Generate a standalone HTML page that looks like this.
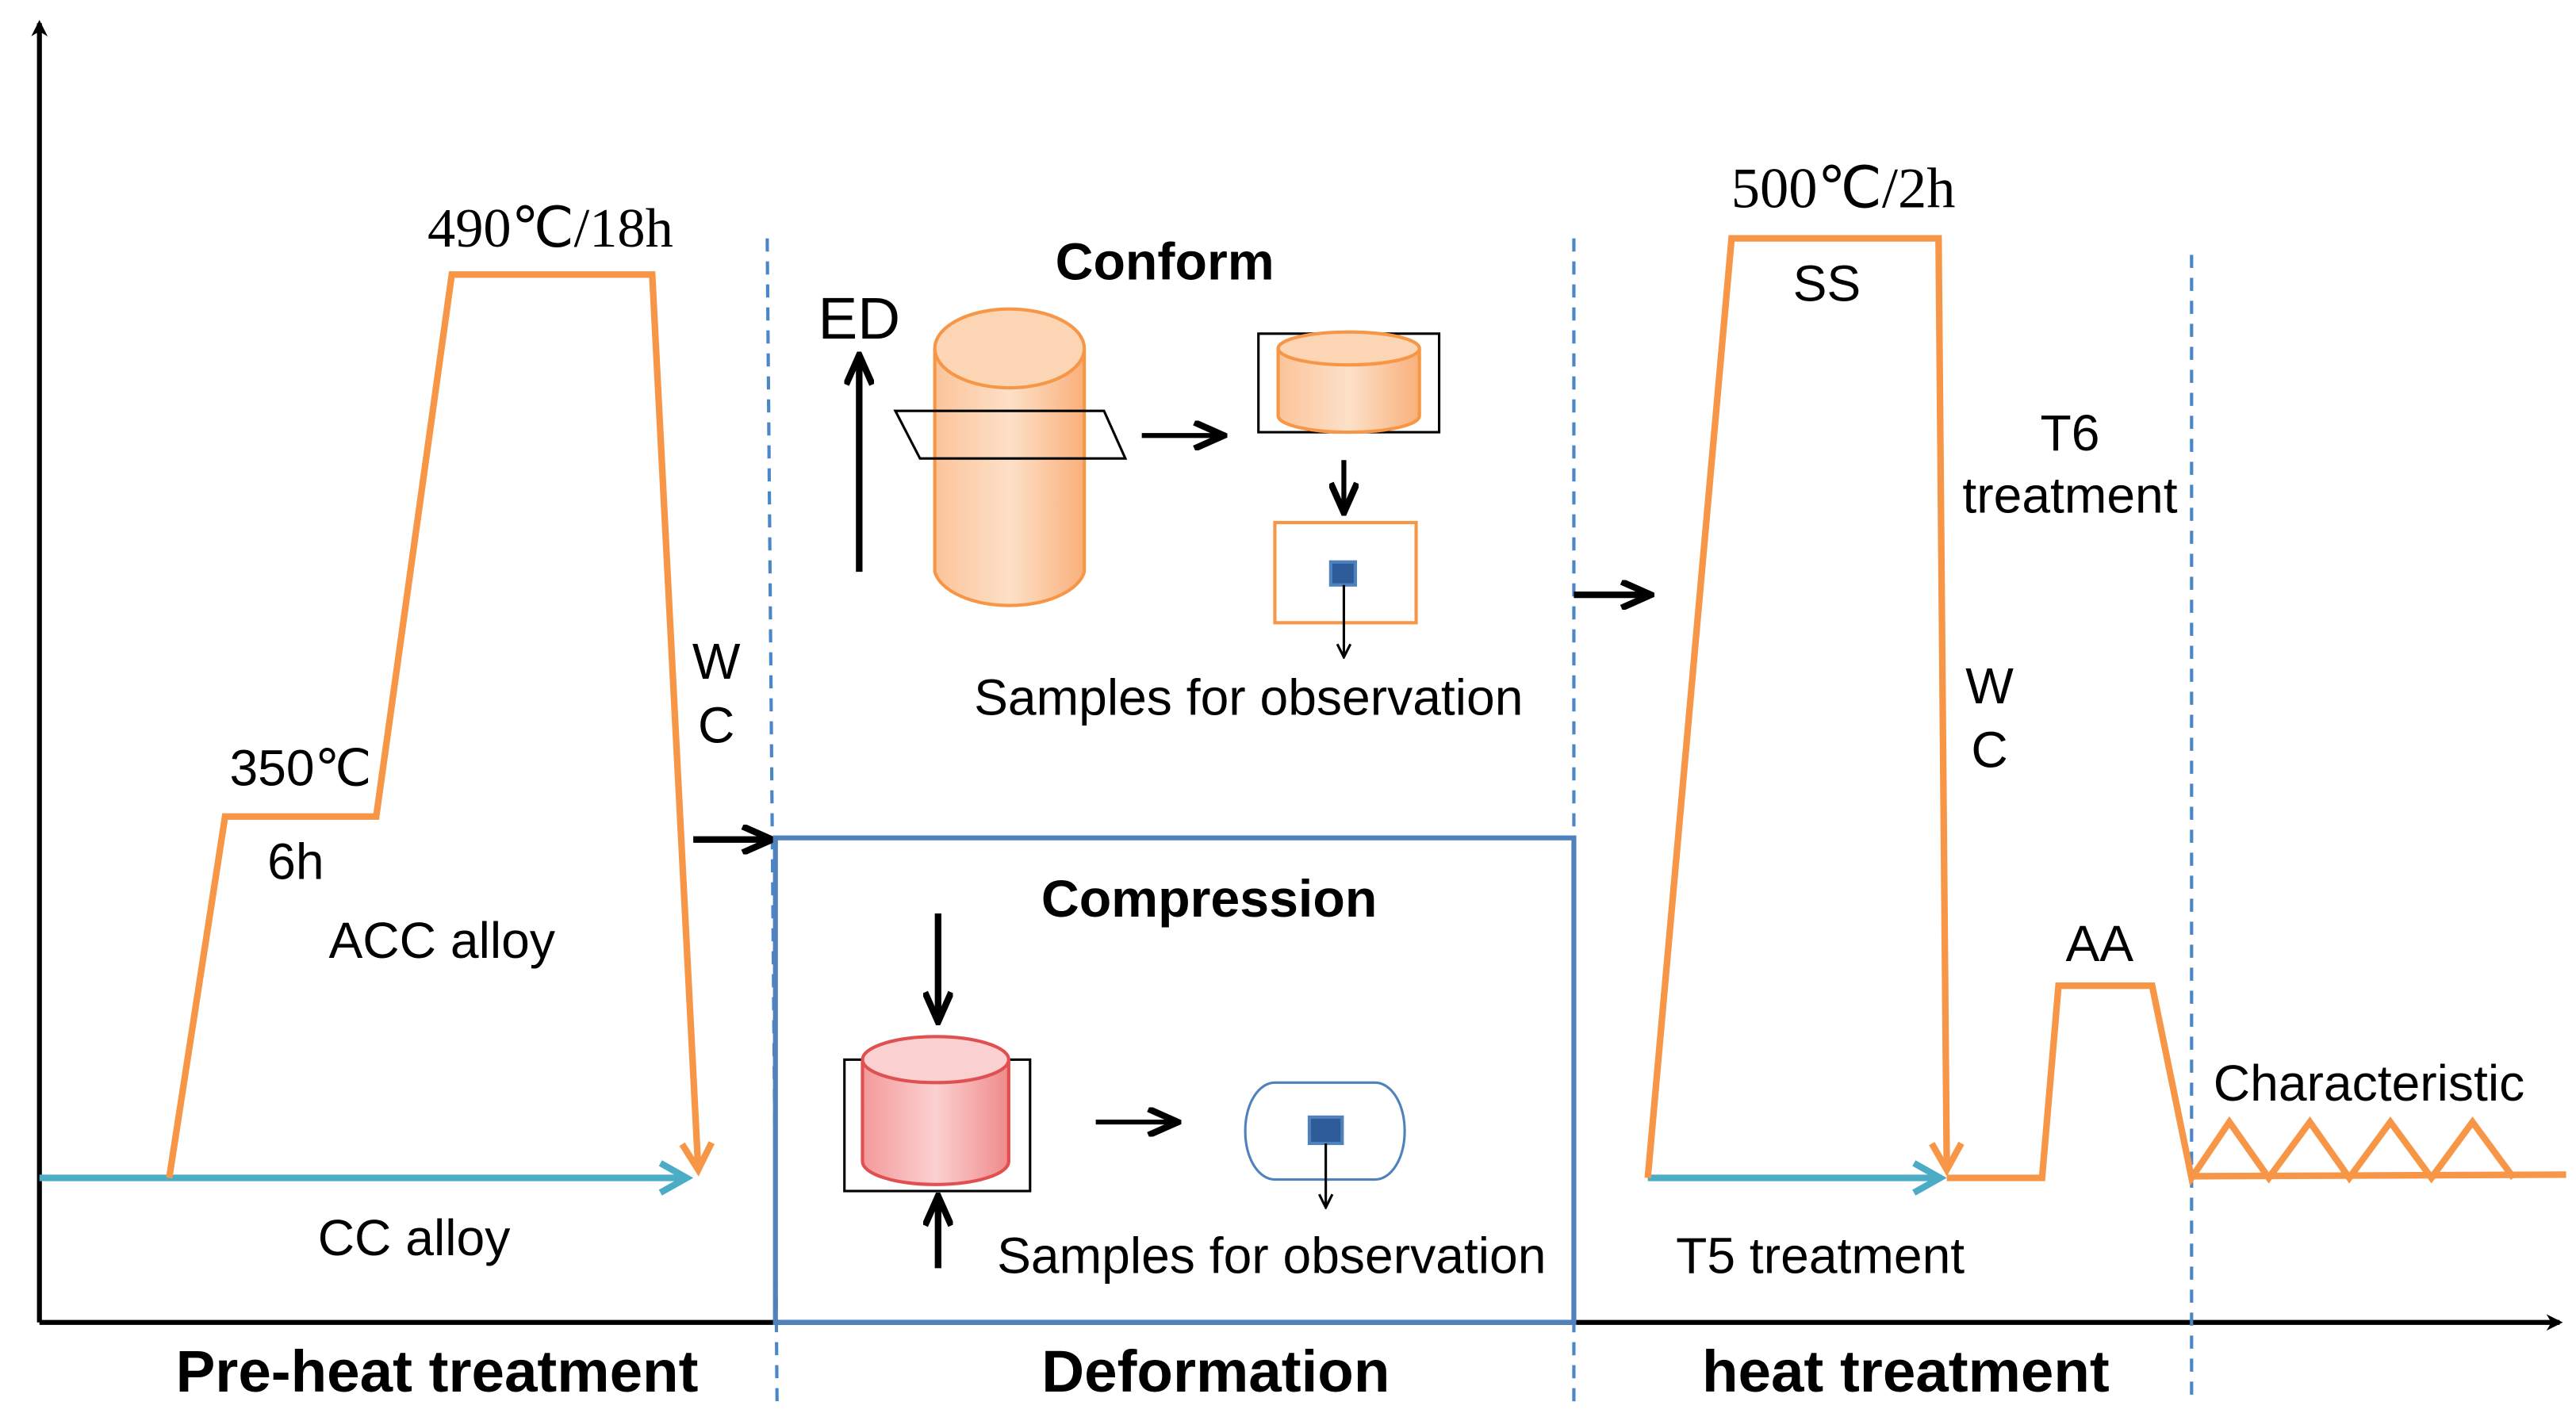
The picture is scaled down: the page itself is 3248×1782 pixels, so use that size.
<!DOCTYPE html>
<html><head><meta charset="utf-8"><style>html,body{margin:0;padding:0;background:#fff}svg{display:block}</style></head>
<body>
<svg width="3248" height="1782" viewBox="0 0 1568 860" xmlns="http://www.w3.org/2000/svg" font-family="Liberation Sans, Arial, sans-serif">
<defs>
<marker id="ak" markerWidth="10" markerHeight="10" refX="8" refY="5" orient="auto" markerUnits="userSpaceOnUse"><path d="M0,0 L10,5 L0,10 L3,5 Z" fill="#000"/></marker>
<marker id="ab" markerWidth="22" markerHeight="18" refX="20" refY="9" orient="auto" markerUnits="userSpaceOnUse"><path d="M2,1 L20,9 L2,17" fill="none" stroke="#000" stroke-width="4"/></marker>
<marker id="ao" markerWidth="22" markerHeight="22" refX="18" refY="11" orient="auto" markerUnits="userSpaceOnUse"><path d="M2,2 L18,11 L2,20" fill="none" stroke="#f79646" stroke-width="4"/></marker>
<marker id="ac" markerWidth="22" markerHeight="22" refX="18" refY="11" orient="auto" markerUnits="userSpaceOnUse"><path d="M2,2 L18,11 L2,20" fill="none" stroke="#4bacc6" stroke-width="4"/></marker>
<marker id="as" markerWidth="10" markerHeight="10" refX="9" refY="5" orient="auto" markerUnits="userSpaceOnUse"><path d="M1,1 L9,5 L1,9" fill="none" stroke="#000" stroke-width="1.5"/></marker>
<linearGradient id="go" x1="0" x2="1"><stop offset="0" stop-color="#fbc49a"/><stop offset="0.5" stop-color="#fde0c8"/><stop offset="1" stop-color="#f9b07a"/></linearGradient>
<linearGradient id="gr" x1="0" x2="1"><stop offset="0" stop-color="#f49a9a"/><stop offset="0.5" stop-color="#fbd0d0"/><stop offset="1" stop-color="#f08a8a"/></linearGradient>
</defs>
<line x1="24" y1="805" x2="24" y2="14" stroke="#000" stroke-width="3" marker-end="url(#ak)"/>
<line x1="24" y1="805" x2="1558" y2="805" stroke="#000" stroke-width="3" marker-end="url(#ak)"/>
<g stroke="#4a86c8" stroke-width="2" stroke-dasharray="8,6">
<line x1="467" y1="145" x2="473" y2="855"/><line x1="958" y1="145" x2="958" y2="855"/><line x1="1334" y1="155" x2="1334" y2="855"/>
</g>
<line x1="24" y1="717" x2="418" y2="717" stroke="#4bacc6" stroke-width="4" marker-end="url(#ac)"/>
<polyline points="103,717 137,497 229,497 275,167 397,167 425,712" fill="none" stroke="#f79646" stroke-width="4" marker-end="url(#ao)"/>
<g font-size="31" text-anchor="middle" fill="#000">
<text x="335" y="150" font-family="Liberation Serif, serif" font-size="34">490℃/18h</text>
<text x="183" y="478">350℃</text>
<text x="180" y="535">6h</text>
<text x="269" y="583">ACC alloy</text>
<text x="252" y="764">CC alloy</text>
<text x="436" y="413">W</text><text x="436" y="452">C</text>
<text x="266" y="847" font-weight="bold" font-size="36">Pre-heat treatment</text>
<text x="740" y="847" font-weight="bold" font-size="36">Deformation</text>
<text x="1160" y="847" font-weight="bold" font-size="36">heat treatment</text>
</g>
<line x1="422" y1="511" x2="470" y2="511" stroke="#000" stroke-width="4" marker-end="url(#ab)"/>
<rect x="472" y="510" width="486" height="295" fill="none" stroke="#4f81bd" stroke-width="3"/>
<text x="709" y="170" font-size="32" font-weight="bold" text-anchor="middle">Conform</text>
<text x="523" y="206" font-size="36" text-anchor="middle">ED</text>
<line x1="523" y1="348" x2="523" y2="216" stroke="#000" stroke-width="4" marker-end="url(#ab)"/>
<path d="M569,212 L569,348 A46,24 0 0 0 660,348 L660,212" fill="url(#go)" stroke="#f79646" stroke-width="2"/>
<ellipse cx="614.5" cy="212" rx="45.5" ry="24" fill="#fcd5b5" stroke="#f79646" stroke-width="2"/>
<polygon points="545,250 672,250 685,279 560,279" fill="none" stroke="#000" stroke-width="1.5"/>
<line x1="695" y1="265" x2="745" y2="265" stroke="#000" stroke-width="3" marker-end="url(#ab)"/>
<rect x="766" y="203" width="110" height="60" fill="none" stroke="#000" stroke-width="1.5"/>
<path d="M778,212 L778,253 A43,10 0 0 0 864,253 L864,212" fill="url(#go)" stroke="#f79646" stroke-width="2"/>
<ellipse cx="821" cy="212" rx="43" ry="10" fill="#fcd5b5" stroke="#f79646" stroke-width="2"/>
<line x1="818" y1="280" x2="818" y2="312" stroke="#000" stroke-width="3" marker-end="url(#ab)"/>
<rect x="776" y="318" width="86" height="61" fill="#fff" stroke="#f79646" stroke-width="2"/>
<rect x="810" y="342" width="15" height="14" fill="#2e5c9a" stroke="#4f81bd" stroke-width="2"/>
<line x1="818" y1="356" x2="818" y2="400" stroke="#000" stroke-width="1.5" marker-end="url(#as)"/>
<text x="760" y="435" font-size="31" text-anchor="middle">Samples for observation</text>
<text x="736" y="558" font-size="32" font-weight="bold" text-anchor="middle">Compression</text>
<line x1="571" y1="556" x2="571" y2="622" stroke="#000" stroke-width="4" marker-end="url(#ab)"/>
<line x1="571" y1="772" x2="571" y2="728" stroke="#000" stroke-width="4" marker-end="url(#ab)"/>
<rect x="514" y="645" width="113" height="80" fill="none" stroke="#000" stroke-width="1.5"/>
<path d="M525,645 L525,707 A44.5,14 0 0 0 614,707 L614,645" fill="url(#gr)" stroke="#e05050" stroke-width="2"/>
<ellipse cx="569.5" cy="645" rx="44.5" ry="14" fill="#fbd0d0" stroke="#e05050" stroke-width="2"/>
<line x1="667" y1="683" x2="717" y2="683" stroke="#000" stroke-width="3" marker-end="url(#ab)"/>
<rect x="758" y="659" width="97" height="59" rx="18" ry="29" fill="#fff" stroke="#4f81bd" stroke-width="1.5"/>
<rect x="797" y="680" width="20" height="16" fill="#2e5c9a" stroke="#4f81bd" stroke-width="2"/>
<line x1="807" y1="696" x2="807" y2="735" stroke="#000" stroke-width="1.5" marker-end="url(#as)"/>
<text x="774" y="775" font-size="31" text-anchor="middle">Samples for observation</text>
<line x1="958" y1="362" x2="1005" y2="362" stroke="#000" stroke-width="4" marker-end="url(#ab)"/>
<line x1="1003" y1="717" x2="1181" y2="717" stroke="#4bacc6" stroke-width="4" marker-end="url(#ac)"/>
<polyline points="1003,717 1054,145 1180,145 1185,712" fill="none" stroke="#f79646" stroke-width="4" marker-end="url(#ao)"/>
<polyline points="1185,717 1243,717 1253,600 1310,600 1334,717 1357,683 1381,717 1406,683 1430,717 1455,683 1480,717 1505,683 1530,717" fill="none" stroke="#f79646" stroke-width="4"/>
<line x1="1334" y1="716" x2="1562" y2="715" stroke="#f79646" stroke-width="4"/>
<g font-size="31" text-anchor="middle">
<text x="1122" y="126" font-family="Liberation Serif, serif" font-size="35">500℃/2h</text>
<text x="1112" y="183">SS</text>
<text x="1260" y="274">T6</text>
<text x="1260" y="312">treatment</text>
<text x="1211" y="428">W</text><text x="1211" y="467">C</text>
<text x="1278" y="585">AA</text>
<text x="1442" y="670">Characteristic</text>
<text x="1108" y="775">T5 treatment</text>
</g>
</svg>
</body></html>
